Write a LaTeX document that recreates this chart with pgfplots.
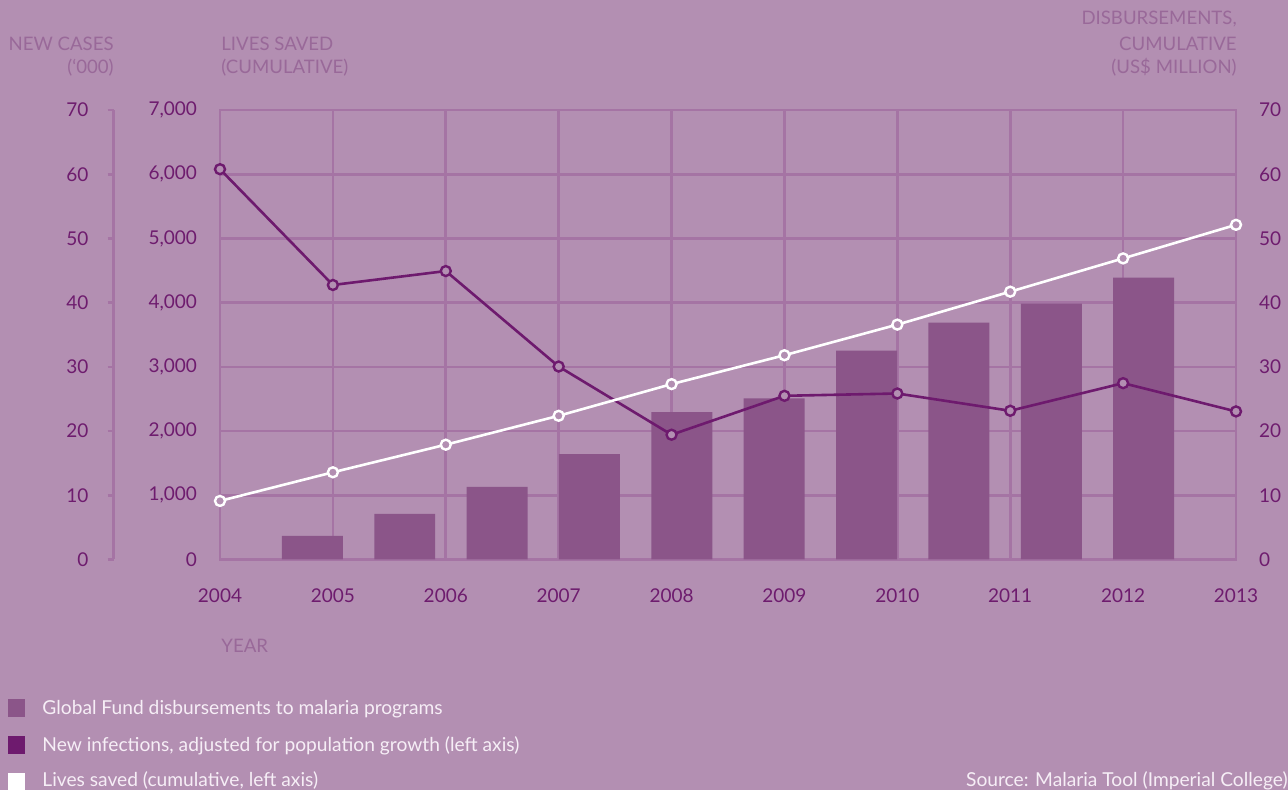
\documentclass[border=0pt]{standalone}
\usepackage{fontspec}
\setmainfont{Lato}
\usepackage{pgfplots}
\pgfplotsset{compat=1.18}

\definecolor{bg}{RGB}{179,143,178}
\definecolor{gridcol}{RGB}{165,116,164}
\definecolor{barcol}{RGB}{139,85,137}
\definecolor{darkline}{RGB}{110,26,110}
\definecolor{tickcol}{RGB}{110,28,110}
\definecolor{titlecol}{RGB}{153,105,153}
\definecolor{legtext}{RGB}{246,238,246}

\pgfplotsset{
  panel/.style={
    at={(110pt,115.25pt)}, anchor=south west,
    scale only axis, width=508pt, height=224.75pt,
    xmin=2004, xmax=2013, clip=false,
    tick label style={font=\fontsize{9.5}{11}\selectfont, text=tickcol},
    /pgf/number format/assume math mode=true,
  }
}

\begin{document}
\begin{tikzpicture}
\fill[bg] (0,0) rectangle (644pt,395pt);

% bars + new infections, right-hand 0-70 labels, grid
\begin{axis}[panel,
  ymin=0, ymax=70,
  xtick={2004,2005,...,2013}, ytick={0,10,...,70},
  grid=major, grid style={gridcol, line width=1.3pt},
  axis line style={gridcol, line width=1.3pt},
  major tick length=0pt,
  yticklabel pos=right,
  /pgf/number format/1000 sep={},
  yticklabel style={xshift=8pt},
  xticklabel style={yshift=-11pt},
]
\addplot[ybar, bar width=0.54, fill=barcol, draw=none] coordinates {
  (2004.8182,3.67) (2005.6364,7.09) (2006.4545,11.29) (2007.2727,16.42)
  (2008.0909,22.95) (2008.9091,25.08) (2009.7273,32.54) (2010.5455,36.89)
  (2011.3636,39.84) (2012.1818,43.89)
};
\addplot[darkline, line width=1.3pt, mark=*, mark size=2.5pt,
  mark options={fill=bg, draw=darkline, line width=1.2pt}] coordinates {
  (2004,60.78) (2005,42.75) (2006,44.92) (2007,30.05) (2008,19.43)
  (2009,25.49) (2010,25.85) (2011,23.16) (2012,27.46) (2013,23.06)
};
\end{axis}

% lives saved, left 0-7000 labels
\begin{axis}[panel,
  ymin=0, ymax=7000,
  hide x axis, axis y line*=left, y axis line style={draw=none},
  major tick length=0pt,
  ytick={0,1000,...,7000},
  /pgf/number format/1000 sep={,},
  yticklabel style={xshift=-8pt},
]
\addplot[white, line width=1.3pt, mark=*, mark size=2.5pt,
  mark options={fill=bg, draw=white, line width=1.2pt}] coordinates {
  (2004,912) (2005,1358) (2006,1788) (2007,2238) (2008,2731)
  (2009,3181) (2010,3658) (2011,4171) (2012,4689) (2013,5212)
};
\end{axis}

% new cases axis
\begin{axis}[
  at={(56.75pt,115.25pt)}, anchor=south west,
  scale only axis, width=20pt, height=224.75pt,
  xmin=0, xmax=1, ymin=0, ymax=70,
  hide x axis, axis y line*=left,
  y axis line style={gridcol, line width=1.3pt, -},
  ytick={0,10,...,70},
  tick align=outside, major tick length=3pt,
  tick style={gridcol, line width=1.3pt},
  tick label style={font=\fontsize{9.5}{11}\selectfont, text=tickcol},
  /pgf/number format/assume math mode=true,
  yticklabel style={xshift=-6pt},
]
\end{axis}

% axis titles
\begin{scope}[every node/.style={inner sep=0pt, text=titlecol, font=\fontsize{9.3}{12}\selectfont}]
\node[anchor=base east] at (57pt,369.5pt) {NEW CASES};
\node[anchor=base east] at (57pt,358pt) {(‘000)};
\node[anchor=base west] at (110.5pt,369.5pt) {LIVES SAVED};
\node[anchor=base west] at (110.5pt,358pt) {(CUMULATIVE)};
\node[anchor=base east] at (618.5pt,382.5pt) {DISBURSEMENTS,};
\node[anchor=base east] at (618.5pt,369.5pt) {CUMULATIVE};
\node[anchor=base east] at (618.5pt,358pt) {(US\$ MILLION)};
\node[anchor=base west] at (110.5pt,68.5pt) {YEAR};
\end{scope}

% legend
\fill[barcol] (4pt,36.5pt) rectangle (12.5pt,45.5pt);
\fill[darkline] (4pt,18pt) rectangle (12.5pt,27pt);
\fill[white] (4pt,0pt) rectangle (12.5pt,8.5pt);
\begin{scope}[every node/.style={inner sep=0pt, text=legtext, font=\fontsize{9.6}{11}\selectfont}]
\node[anchor=base west] at (21pt,37.75pt) {Global Fund disbursements to malaria programs};
\node[anchor=base west] at (21pt,19.25pt) {New infections, adjusted for population growth (left axis)};
\node[anchor=base west] at (21pt,1.5pt) {Lives saved (cumulative, left axis)};
\node[anchor=base east] at (644pt,1.5pt) {Source: Malaria Tool (Imperial College)};
\end{scope}

\pgfresetboundingbox
\useasboundingbox (0,0) rectangle (644pt,395pt);
\end{tikzpicture}
\end{document}
